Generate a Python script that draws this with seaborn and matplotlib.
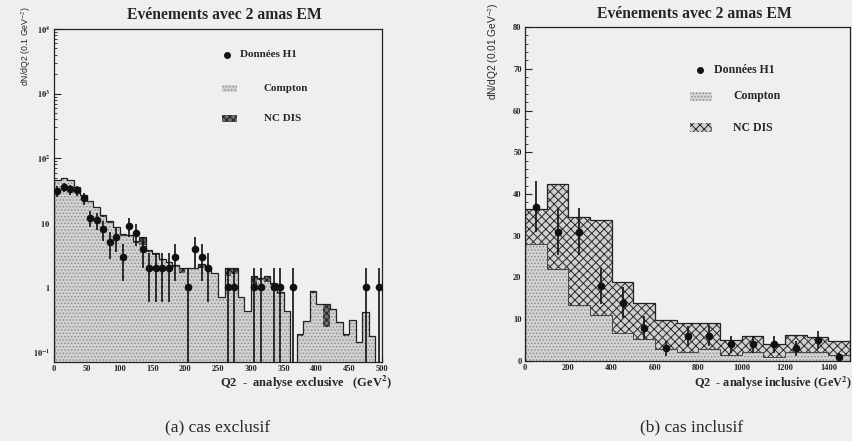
import numpy as np
import pandas as pd
import matplotlib
matplotlib.use("Agg")
import matplotlib.pyplot as plt
import seaborn as sns
from matplotlib.patches import Rectangle
from matplotlib.ticker import MultipleLocator, LogLocator, NullFormatter

# ---------------- data ----------------
# (a) exclusive analysis : 50 bins of 10 GeV^2 from 0 to 500
excl_edges = list(range(0, 510, 10))
excl_compton = [44, 48, 44, 34.5, 26, 20.7, 17, 12.5, 10, 8.3,
                6.3, 6.2, 4.9, 4.5, 3.55, 3.2, 2.7, 2.4, 2.1, 1.7,
                1.9, 1.9, 2.0, 2.0, 1.6, 0.7, 1.5, 1.6, 0.68, 0.41,
                1.1, 1.3, 1.2, 1.1, 0.8, 0.41, 0, 0.18, 0.29, 0.82,
                0.54, 0.24, 0.45, 0.28, 0.18, 0.3, 0.14, 0.4, 0.17, 0]
excl_ncdis = [2.0, 2.0, 2.0, 1.5, 1.0, 0.8, 0.6, 0.5, 0.5, 0.3,
              0.3, 0.3, 0.3, 1.5, 0.2, 0.2, 0.1, 0.1, 0.1, 0.3,
              0.1, 0.1, 0.3, 0.1, 0.05, 0.02, 0.5, 0.4, 0.02, 0.02,
              0.4, 0.1, 0.3, 0.05, 0.05, 0.02, 0, 0.01, 0.01, 0.05,
              0.02, 0.31, 0.02, 0.01, 0.01, 0.01, 0.005, 0.01, 0.01, 0]
excl_data = [31, 36, 33, 32, 24, 12, 11, 8, 5, 6,
             3, 9, 7, 4, 2, 2, 2, 2, 3, 0,
             1, 4, 3, 2, 0, 0, 1, 1, 0, 0,
             1, 1, 0, 1, 1, 0, 1, 0, 0, 0,
             0, 0, 0, 0, 0, 0, 0, 1, 0, 1]

# (b) inclusive analysis : 15 bins of 100 GeV^2 from 0 to 1500
incl_edges = list(range(0, 1600, 100))
incl_compton = [28, 22.1, 13.3, 10.9, 6.8, 5.3, 2.9, 2.1, 2.9, 1.4, 2.1, 1.0, 2.1, 2.1, 1.4]
incl_ncdis = [8.3, 20.3, 21.2, 22.8, 12.2, 8.7, 7.0, 7.0, 6.1, 3.7, 3.9, 3.0, 4.2, 3.6, 3.5]
incl_data = [37, 31, 31, 18, 14, 8, 3, 6, 6, 4, 4, 4, 3, 5, 1]

title_txt = "Evénements avec 2 amas EM"
leg_labels = ["Données H1", "Compton", "NC DIS"]

# ---------------- style ----------------
sns.set_style("ticks")
BG = "#efefef"
plt.rcParams["font.family"] = ["Liberation Serif", "DejaVu Serif"]
plt.rcParams["mathtext.fontset"] = "stix"
plt.rcParams["hatch.linewidth"] = 0.7

fig = plt.figure(figsize=(8.52, 4.41), dpi=100, facecolor=BG)
W, H = 852.0, 441.0

def axes_px(x0, y_top, x1, y_bot):
    return fig.add_axes([x0 / W, 1 - y_bot / H, (x1 - x0) / W, (y_bot - y_top) / H])

axL = axes_px(54, 29, 382, 362)
axR = axes_px(525, 27, 850, 361)

def draw_panel(ax, edges, compton, ncdis, data, comp_style, nc_style):
    e = np.asarray(edges, float)
    centers = 0.5 * (e[:-1] + e[1:])
    compton = np.asarray(compton, float)
    ncdis = np.asarray(ncdis, float)
    total = compton + ncdis
    df = pd.DataFrame({"q2": centers, "total": total, "compton": compton})
    # total (NC DIS visible on top), then Compton over it
    sns.histplot(data=df, x="q2", weights="total", bins=list(edges), element="bars",
                 ax=ax, linewidth=0, **nc_style)
    sns.histplot(data=df, x="q2", weights="compton", bins=list(edges), element="bars",
                 ax=ax, linewidth=0, **comp_style)
    ax.stairs(total, e, color="#222222", linewidth=0.9)
    d = np.asarray(data, float)
    m = d > 0
    ax.errorbar(centers[m], d[m], yerr=np.sqrt(d[m]), fmt="o", color="#111111",
                ms=4.5, elinewidth=1.2, capsize=0, zorder=5)
    ax.set_facecolor(BG)
    ax.set_xlabel("")
    ax.set_ylabel("")
    for s in ax.spines.values():
        s.set_visible(True)
        s.set_linewidth(0.9)
        s.set_color("#222222")

comp_L = dict(color="#d2d2d2", edgecolor="#8e8e8e", hatch=".....", alpha=1)
nc_L = dict(color="#6e6e6e", edgecolor="#1e1e1e", hatch="xxxxx", alpha=1)
draw_panel(axL, excl_edges, excl_compton, excl_ncdis, excl_data, comp_L, nc_L)

comp_R = dict(color="#d4d4d4", edgecolor="#8c8c8c", hatch=".....", alpha=1)
nc_R = dict(color="#d0d0d0", edgecolor="#2a2a2a", hatch="xxxx", alpha=1)
draw_panel(axR, incl_edges, incl_compton, incl_ncdis, incl_data, comp_R, nc_R)
axR.stairs(incl_compton, np.asarray(incl_edges, float), color="#444444", linewidth=0.7)

# left axis: log
axL.set_yscale("log")
axL.set_xlim(0, 500)
axL.set_ylim(0.07, 1e4)
yt = [0.1, 1, 10, 100, 1000, 10000]
axL.set_yticks(yt, [r"$\mathbf{10^{-1}}$", r"$\mathbf{1}$", r"$\mathbf{10}$",
                    r"$\mathbf{10^{2}}$", r"$\mathbf{10^{3}}$", r"$\mathbf{10^{4}}$"])
axL.yaxis.set_minor_locator(LogLocator(base=10, subs=np.arange(2, 10), numticks=20))
axL.yaxis.set_minor_formatter(NullFormatter())
axL.set_xticks(np.arange(0, 501, 50))
axL.xaxis.set_minor_locator(MultipleLocator(10))

axR.set_xlim(0, 1500)
axR.set_ylim(0, 80)
axR.set_yticks(np.arange(0, 81, 10))
axR.set_xticks(np.arange(0, 1401, 200))
axR.yaxis.set_minor_locator(MultipleLocator(2))
axR.xaxis.set_minor_locator(MultipleLocator(50))

for ax in (axL, axR):
    ax.tick_params(which="major", direction="in", length=5, width=0.8, pad=2.5,
                   labelsize=6, colors="#222222")
    ax.tick_params(which="minor", direction="in", length=2.5, width=0.6)
    for lab in ax.get_xticklabels() + ax.get_yticklabels():
        lab.set_fontweight("bold")

# ---- legends (drawn inside axes) ----
def legend(ax, pt_xy, txt_pt_x, patch_x, patch_w, patch_ys, patch_h, txt_x, fs,
           comp_style, nc_style):
    ax.plot([pt_xy[0]], [pt_xy[1]], "o", color="#111111", ms=4, transform=ax.transAxes,
            clip_on=False)
    ax.text(txt_pt_x, pt_xy[1], leg_labels[0], transform=ax.transAxes, fontsize=fs,
            fontweight="bold", va="center", ha="left")
    for y, st, lab in zip(patch_ys, (comp_style, nc_style), leg_labels[1:]):
        r = Rectangle((patch_x, y - patch_h / 2), patch_w, patch_h, transform=ax.transAxes,
                      facecolor=st["color"], edgecolor=st["edgecolor"], hatch=st["hatch"],
                      linewidth=0)
        ax.add_patch(r)
        ax.text(txt_x, y, lab, transform=ax.transAxes, fontsize=fs, fontweight="bold",
                va="center", ha="left")

legend(axL, (0.527, 0.922), 0.567, 0.512, 0.046, (0.821, 0.731), 0.022, 0.640, 8,
       comp_L, nc_L)
legend(axR, (0.538, 0.871), 0.582, 0.508, 0.067, (0.792, 0.699), 0.026, 0.640, 8.5,
       comp_R, nc_R)

# ---- titles, labels, captions ----
fig.text(224 / W, 1 - 15 / H, title_txt, ha="center", va="center", fontsize=11.3,
         fontweight="bold")
fig.text(694 / W, 1 - 14 / H, title_txt, ha="center", va="center", fontsize=11.3,
         fontweight="bold")
fig.text(26 / W, 1 - 6 / H, "dN/dQ2 (0.1 GeV$^{-2}$)", rotation=90, ha="center", va="top",
         fontsize=6.3, family=["Liberation Sans", "DejaVu Sans"])
fig.text(494 / W, 1 - 2 / H, "dN/dQ2 (0.01 GeV$^{-2}$)", rotation=90, ha="center", va="top",
         fontsize=7.3, family=["Liberation Sans", "DejaVu Sans"])
fig.text(392 / W, 1 - 383 / H, "Q2  -  analyse exclusive   (GeV$^{\\mathbf{2}}$)",
         ha="right", va="center", fontsize=9, fontweight="bold")
fig.text(852 / W, 1 - 383 / H, "Q2  - analyse inclusive (GeV$^{\\mathbf{2}}$)",
         ha="right", va="center", fontsize=8.8, fontweight="bold")
fig.text(218 / W, 1 - 427 / H, "(a) cas exclusif", ha="center", va="center", fontsize=12.5)
fig.text(692 / W, 1 - 427 / H, "(b) cas inclusif", ha="center", va="center", fontsize=12.5)

fig.savefig("out.png", dpi=100, facecolor=BG)
